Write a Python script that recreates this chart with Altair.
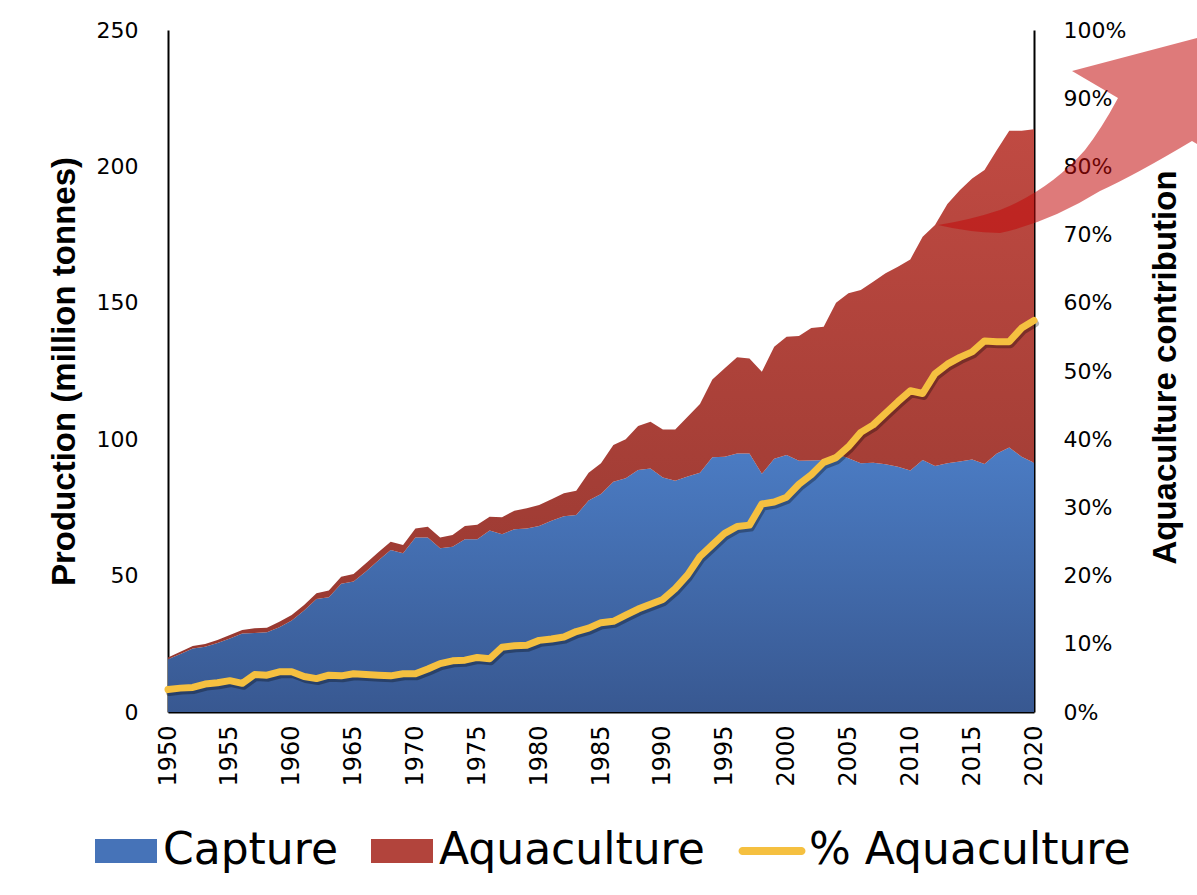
import altair as alt
import pandas as pd

years = list(range(1950, 2021))

capture = [19.3, 21.3, 23.3, 23.9, 25.3, 26.9, 28.8, 29.0, 29.2, 31.1,
           33.5, 37.2, 41.4, 42.1, 47.0, 47.8, 51.5, 55.5, 59.4, 58.2,
           64.0, 64.0, 60.0, 60.6, 63.3, 63.3, 66.5, 65.2, 67.0, 67.3,
           68.2, 70.1, 71.8, 72.2, 77.5, 79.9, 84.4, 85.7, 88.7, 89.3,
           86.0, 84.8, 86.3, 87.7, 93.4, 93.6, 94.8, 94.8, 87.3, 92.8,
           94.2, 92.1, 92.2, 92.4, 94.6, 93.0, 91.2, 91.4, 90.8, 89.9,
           88.5, 92.4, 90.2, 91.2, 91.8, 92.6, 90.9, 94.8, 97.0, 93.6, 91.4]

aquaculture = [0.7, 0.8, 0.9, 1.0, 1.1, 1.3, 1.3, 1.7, 1.7, 2.0,
               2.1, 2.0, 2.1, 2.4, 2.6, 2.8, 3.0, 3.1, 3.0, 3.0,
               3.3, 3.9, 4.0, 4.3, 4.9, 5.3, 5.1, 6.2, 6.8, 7.4,
               7.7, 7.9, 8.4, 8.9, 10.2, 11.3, 13.5, 14.3, 16.1, 17.1,
               17.6, 18.8, 21.9, 25.2, 28.5, 32.4, 35.2, 34.8, 37.4, 41.1,
               43.4, 45.7, 48.6, 48.8, 55.4, 60.5, 63.5, 66.3, 70.0, 73.3,
               77.4, 81.8, 88.3, 95.0, 99.5, 103.0, 107.8, 111.2, 116.1, 119.5, 122.2]

pct_aquaculture = [3.3, 3.5, 3.6, 4.1, 4.3, 4.6, 4.2, 5.5, 5.4, 5.9,
                   5.9, 5.2, 4.9, 5.4, 5.3, 5.6, 5.5, 5.4, 5.3, 5.6,
                   5.6, 6.3, 7.1, 7.5, 7.6, 8.0, 7.8, 9.5, 9.7, 9.8,
                   10.5, 10.7, 11.0, 11.8, 12.3, 13.1, 13.3, 14.2, 15.1, 15.8,
                   16.5, 18.1, 20.1, 22.8, 24.5, 26.2, 27.2, 27.4, 30.5, 30.8,
                   31.5, 33.4, 34.8, 36.6, 37.3, 38.9, 41.0, 42.1, 43.8, 45.5,
                   47.1, 46.7, 49.6, 51.0, 52.0, 52.8, 54.4, 54.3, 54.3, 56.3, 57.4]

x_ticks = list(range(1950, 2021, 5))
left_ticks = [0, 50, 100, 150, 200, 250]
right_ticks = [0, 10, 20, 30, 40, 50, 60, 70, 80, 90, 100]
series_names = ["Capture", "Aquaculture", "% Aquaculture"]
series_colors = ["#4673b8", "#b2443c", "#f5c040"]

df = pd.DataFrame({"Year": years, "Capture": capture, "Aquaculture": aquaculture,
                   "Pct": pct_aquaculture})
df["Total"] = df["Capture"] + df["Aquaculture"]

W, H = 866, 682
FONT = "DejaVu Sans"
TFONT = "Liberation Sans, Arial, sans-serif"

xenc = alt.X("Year:Q", scale=alt.Scale(domain=[1950, 2020], nice=False, zero=False),
             axis=alt.Axis(values=x_ticks, format="d", labelAngle=270, ticks=False,
                           labelPadding=13, labelFont=FONT, labelFontSize=24,
                           labelColor="black", domainColor="black", domainWidth=2,
                           grid=False, title=None))

blue_grad = alt.Gradient(gradient="linear",
                         stops=[alt.GradientStop(color="#4b7cc4", offset=0),
                                alt.GradientStop(color="#385891", offset=1)],
                         x1=1, x2=1, y1=0, y2=1)
red_grad = alt.Gradient(gradient="linear",
                        stops=[alt.GradientStop(color="#c04a42", offset=0),
                               alt.GradientStop(color="#963830", offset=1)],
                        x1=1, x2=1, y1=0, y2=1)

yleft = alt.Y("Capture:Q", scale=alt.Scale(domain=[0, 250], nice=False),
              axis=alt.Axis(values=left_ticks, ticks=False, labelPadding=30,
                            labelFont=FONT, labelFontSize=22, labelColor="black",
                            domainColor="black", domainWidth=2, grid=False,
                            title="Production (million tonnes)", titleFont=TFONT,
                            titleFontSize=33, titleFontWeight="bold", titleColor="black",
                            titleAngle=270, titleX=-104, titleY=341,
                            titleBaseline="middle", titleAlign="center"))

cap_area = alt.Chart(df).mark_area(color=blue_grad, line=False).encode(x=xenc, y=yleft)
aq_area = alt.Chart(df).mark_area(color=red_grad).encode(x=xenc, y=alt.Y("Total:Q"),
                                                          y2="Capture:Q")
left = alt.layer(cap_area, aq_area)

yright = alt.Y("Pct:Q", scale=alt.Scale(domain=[0, 100], nice=False),
               axis=alt.Axis(orient="right", values=right_ticks, ticks=False,
                             labelExpr="datum.value + '%'", labelPadding=29,
                             labelFont=FONT, labelFontSize=22, labelColor="black",
                             domainColor="black", domainWidth=2, grid=False,
                             title="Aquaculture contribution", titleFont=TFONT,
                             titleFontSize=33, titleFontWeight="bold", titleColor="black",
                             titleAngle=270, titleX=131, titleY=337,
                             titleBaseline="middle", titleAlign="center"))

shadow = alt.Chart(df).mark_line(color="black", opacity=0.3, strokeWidth=7,
                                 xOffset=1.5, yOffset=3, strokeCap="round",
                                 strokeJoin="round").encode(x=xenc, y=yright)
pline = alt.Chart(df).mark_line(color="#f5c040", strokeWidth=7, strokeCap="round",
                                strokeJoin="round").encode(x=xenc, y=yright)
right = alt.layer(shadow, pline)

arrow_path = ("M-1.42,0.95 Q-1.10,0.90 -0.80,0.80 Q-0.30,0.60 0.05,0.20 "
              "Q0.22,-0.02 0.38,-0.32 L-0.08,-0.59 L1.55,-1.02 L1.58,0.38 L1.12,0.11 "
              "Q0.55,0.45 0.20,0.61 Q-0.30,0.92 -0.80,1.03 Q-1.13,1.02 -1.42,0.95 Z")
arrow = alt.Chart(pd.DataFrame({"a": [0]})).mark_point(
    shape=arrow_path, size=40000, filled=True, fill="#c20a0a", opacity=0.54,
    strokeWidth=0).encode(x=alt.value(912), y=alt.value(100))

rect_path = "M-1,-0.39H1V0.39H-1Z"
line_path = "M-0.95,-0.13H0.95A0.13,0.13 0 0 1 0.95,0.13H-0.95A0.13,0.13 0 0 1 -0.95,-0.13Z"
leg_df = pd.DataFrame({"Series": series_names, "v": [-1, -1, -1]})
leg = alt.Legend(orient="none", legendX=-73, legendY=790, direction="horizontal",
                 columns=3, title=None, labelFont=FONT, labelFontSize=44,
                 labelColor="black", labelLimit=0, symbolSize=3844,
                 symbolStrokeWidth=0, labelOffset=6, columnPadding=33,
                 symbolOpacity=1)
legend_layer = alt.Chart(leg_df).transform_filter("datum.v > 0").mark_point(
    filled=True, opacity=1).encode(
    x=alt.value(0), y=alt.value(0),
    color=alt.Color("Series:N", scale=alt.Scale(domain=series_names, range=series_colors),
                    legend=leg),
    shape=alt.Shape("Series:N", scale=alt.Scale(domain=series_names,
                                                range=[rect_path, rect_path, line_path]),
                    legend=leg))

chart = alt.layer(left, right, arrow, legend_layer).resolve_scale(y="independent").properties(
    width=W, height=H,
    autosize=alt.AutoSizeParams(type="none"),
    padding={"left": 168, "top": 30, "right": 163, "bottom": 183},
    background="white",
).configure_view(strokeWidth=0)

chart.save("out.html", embed_options={"renderer": "svg", "actions": False})
